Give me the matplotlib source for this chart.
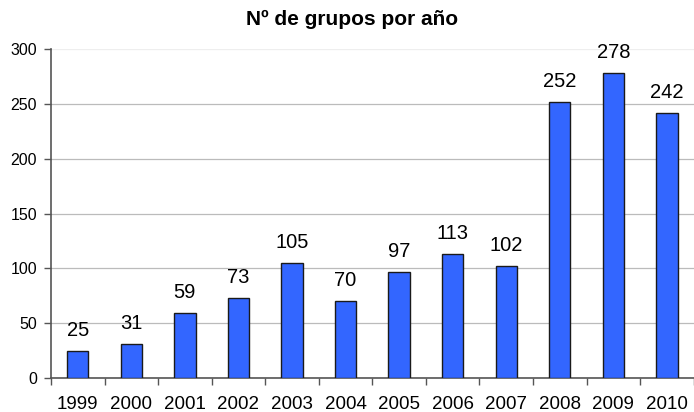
import numpy as np
import matplotlib
matplotlib.use("Agg")
import matplotlib.pyplot as plt

plt.rcParams['font.family'] = ['Liberation Sans', 'DejaVu Sans']

years = ['1999', '2000', '2001', '2002', '2003', '2004', '2005',
         '2006', '2007', '2008', '2009', '2010']
groups = [25, 31, 59, 73, 105, 70, 97, 113, 102, 252, 278, 242]

fig = plt.figure(figsize=(6.94, 4.12), dpi=100)
ax = fig.add_axes([0.0735, 0.0825, 0.926, 0.7985])

x = np.arange(len(years))
bars = ax.bar(x, groups, width=0.4, color='#3366FF', edgecolor='#1a1a1a',
              linewidth=1.0, zorder=3)

for xi, v in zip(x, groups):
    ax.text(xi, v + 10, str(v), ha='center', va='bottom', fontsize=14.5)

ax.set_xlim(-0.5, len(years) - 0.5)
ax.set_ylim(0, 300)
ax.set_yticks(np.arange(0, 301, 50))
ax.yaxis.grid(True, color='#bbbbbb', linewidth=0.9, zorder=0)
ax.get_ygridlines()[-1].set_color('#eeeeee')

# category labels centred, tick marks between categories
ax.set_xticks(x)
ax.set_xticklabels(years, fontsize=13.5)
ax.tick_params(axis='x', length=0, pad=13)
ax.set_xticks(np.arange(-0.5, len(years), 1.0), minor=True)
ax.tick_params(axis='x', which='minor', length=5, color='#555555', width=1)
ax.tick_params(axis='y', length=5, color='#555555', width=1, labelsize=11.5, pad=5)

for side in ['top', 'right']:
    ax.spines[side].set_visible(False)
for side in ['left', 'bottom']:
    ax.spines[side].set_color('#555555')
    ax.spines[side].set_linewidth(1.2)

fig.suptitle('Nº de grupos por año', fontsize=15, fontweight='bold',
             x=0.508, y=0.975)

fig.savefig('out.png', dpi=100)
